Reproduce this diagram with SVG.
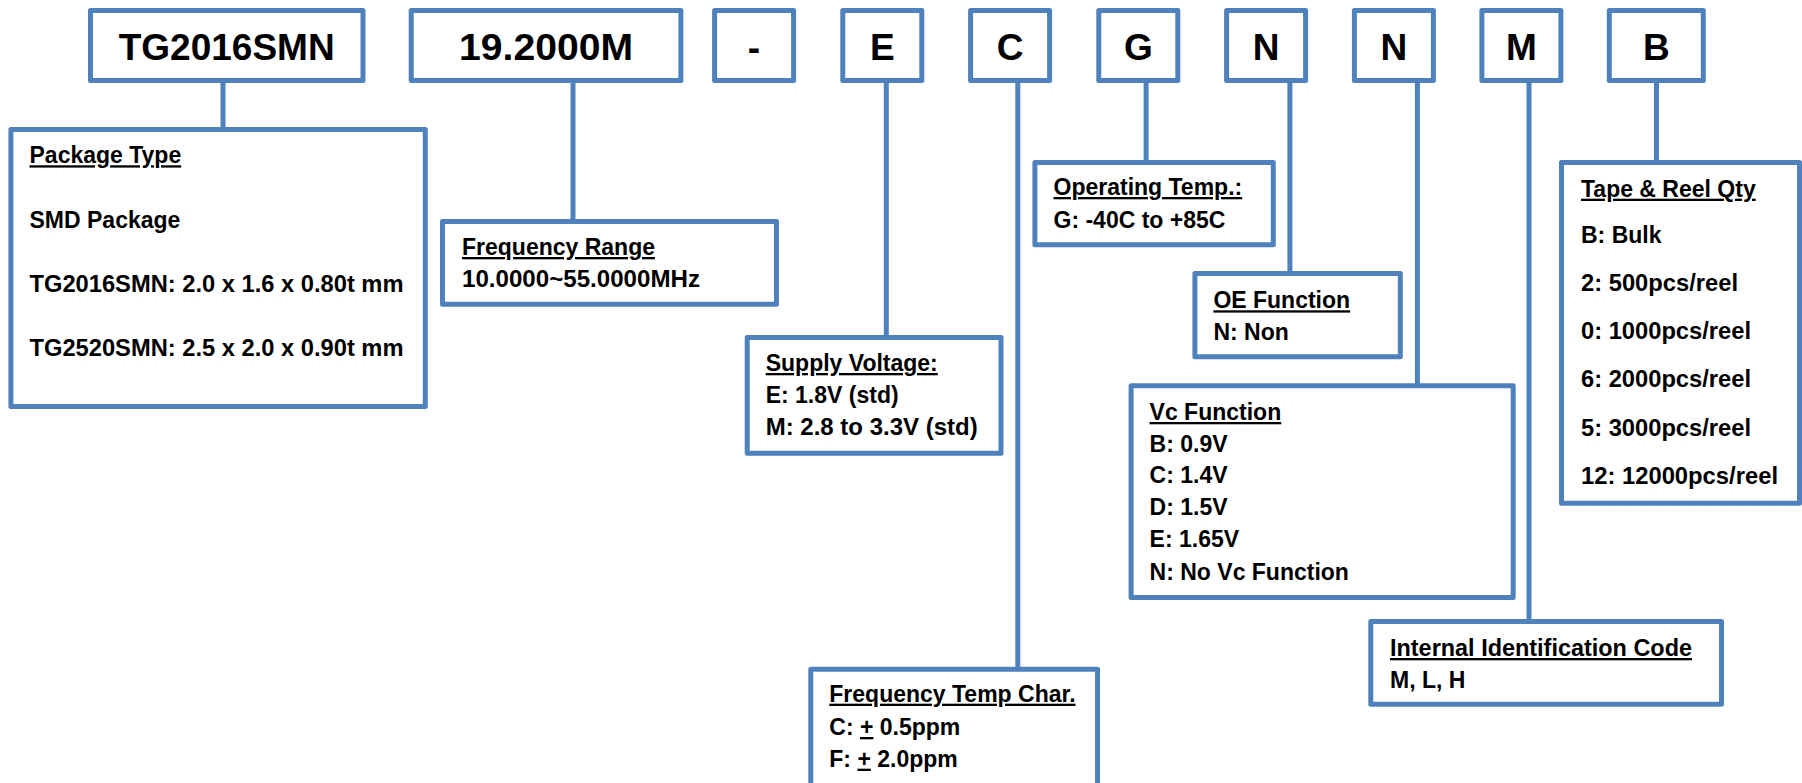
<svg xmlns="http://www.w3.org/2000/svg" width="1802" height="783" viewBox="0 0 1802 783">
<style>
.box{fill:#fff;stroke:#4F81BD;stroke-width:5;stroke-linejoin:round}
.ln{stroke:#4F81BD;stroke-width:5;fill:none}
.t{font-family:"Liberation Sans",Arial,sans-serif;font-weight:bold;fill:#000}
.big{font-size:37px;text-anchor:middle}
.s{font-size:23px}
.u{text-decoration:underline}
</style>
<rect width="1802" height="783" fill="#fff"/>
<g id="connectors">
<line class="ln" x1="223" y1="80" x2="223" y2="130"/>
<line class="ln" x1="573" y1="80" x2="573" y2="222"/>
<line class="ln" x1="886.3" y1="80" x2="886.3" y2="338"/>
<line class="ln" x1="1017.8" y1="80" x2="1017.8" y2="669"/>
<line class="ln" x1="1146.1" y1="80" x2="1146.1" y2="163"/>
<line class="ln" x1="1289.9" y1="80" x2="1289.9" y2="274"/>
<line class="ln" x1="1417.4" y1="80" x2="1417.4" y2="386"/>
<line class="ln" x1="1529" y1="80" x2="1529" y2="622"/>
<line class="ln" x1="1656.5" y1="80" x2="1656.5" y2="163"/>
</g>
<g id="code-TG2016SMN"><rect class="box" x="90.5" y="10.5" width="272.5" height="70"/><text class="t big" x="226.7" y="60">TG2016SMN</text></g>
<g id="code-freq"><rect class="box" x="411.2" y="10.5" width="269.7" height="70"/><text class="t big" x="546" y="60" textLength="174" lengthAdjust="spacingAndGlyphs">19.2000M</text></g>
<g id="code-dash"><rect class="box" x="714.6" y="10.5" width="79" height="70"/><text class="t big" x="754" y="60">-</text></g>
<g id="code-E"><rect class="box" x="842.8" y="10.5" width="79" height="70"/><text class="t big" x="882.3" y="60">E</text></g>
<g id="code-C"><rect class="box" x="970.6" y="10.5" width="79" height="70"/><text class="t big" x="1010.1" y="60">C</text></g>
<g id="code-G"><rect class="box" x="1098.8" y="10.5" width="79" height="70"/><text class="t big" x="1138.3" y="60">G</text></g>
<g id="code-N1"><rect class="box" x="1226.6" y="10.5" width="79" height="70"/><text class="t big" x="1266.1" y="60">N</text></g>
<g id="code-N2"><rect class="box" x="1354.4" y="10.5" width="79" height="70"/><text class="t big" x="1393.9" y="60">N</text></g>
<g id="code-M"><rect class="box" x="1481.9" y="10.5" width="79" height="70"/><text class="t big" x="1521.4" y="60">M</text></g>
<g id="code-B"><rect class="box" x="1609.3" y="10.5" width="94" height="70"/><text class="t big" x="1656.3" y="60">B</text></g>

<g id="package-type"><rect class="box" x="10.9" y="129.5" width="414.4" height="277"/>
<text class="t s u" x="29.5" y="163.3">Package Type</text>
<text class="t s" x="29.5" y="227.7">SMD Package</text>
<text class="t s" x="29.5" y="291.7" textLength="374" lengthAdjust="spacingAndGlyphs">TG2016SMN: 2.0 x 1.6 x 0.80t mm</text>
<text class="t s" x="29.5" y="355.7" textLength="374" lengthAdjust="spacingAndGlyphs">TG2520SMN: 2.5 x 2.0 x 0.90t mm</text></g>

<g id="frequency-range"><rect class="box" x="442.5" y="221.5" width="334" height="82.7"/>
<text class="t s u" x="462" y="255">Frequency Range</text>
<text class="t s" x="462" y="287.3" textLength="238" lengthAdjust="spacingAndGlyphs">10.0000~55.0000MHz</text></g>

<g id="supply-voltage"><rect class="box" x="747.2" y="337.5" width="253.8" height="115.7"/>
<text class="t s u" x="765.7" y="371">Supply Voltage:</text>
<text class="t s" x="765.7" y="403.3">E: 1.8V (std)</text>
<text class="t s" x="765.7" y="435" textLength="212" lengthAdjust="spacingAndGlyphs">M: 2.8 to 3.3V (std)</text></g>

<g id="freq-temp-char"><rect class="box" x="810.8" y="669.2" width="286.7" height="150"/>
<text class="t s u" x="829.3" y="701.7">Frequency Temp Char.</text>
<text class="t s" x="829.3" y="735">C: <tspan class="u">+</tspan> 0.5ppm</text>
<text class="t s" x="829.3" y="766.7">F: <tspan class="u">+</tspan> 2.0ppm</text></g>

<g id="operating-temp"><rect class="box" x="1034.9" y="162.5" width="238.4" height="82.3"/>
<text class="t s u" x="1053.5" y="195">Operating Temp.:</text>
<text class="t s" x="1053.5" y="228">G: -40C to +85C</text></g>

<g id="oe-function"><rect class="box" x="1194.9" y="273.5" width="205.4" height="83.3"/>
<text class="t s u" x="1213.4" y="308.3">OE Function</text>
<text class="t s" x="1213.4" y="340">N: Non</text></g>

<g id="vc-function"><rect class="box" x="1131.1" y="385.8" width="382.1" height="211.7"/>
<text class="t s u" x="1149.6" y="420">Vc Function</text>
<text class="t s" x="1149.6" y="451.7">B: 0.9V</text>
<text class="t s" x="1149.6" y="483.3">C: 1.4V</text>
<text class="t s" x="1149.6" y="515">D: 1.5V</text>
<text class="t s" x="1149.6" y="546.7">E: 1.65V</text>
<text class="t s" x="1149.6" y="580">N: No Vc Function</text></g>

<g id="internal-id"><rect class="box" x="1370.8" y="621.5" width="350.7" height="82.7"/>
<text class="t s u" x="1390" y="656" textLength="302" lengthAdjust="spacingAndGlyphs">Internal Identification Code</text>
<text class="t s" x="1390" y="688.3">M, L, H</text></g>

<g id="tape-reel"><rect class="box" x="1561.5" y="162.5" width="238" height="340.7"/>
<text class="t s u" x="1581" y="196.7">Tape &amp; Reel Qty</text>
<text class="t s" x="1581" y="243.3">B: Bulk</text>
<text class="t s" x="1581" y="291" textLength="157" lengthAdjust="spacingAndGlyphs">2: 500pcs/reel</text>
<text class="t s" x="1581" y="339" textLength="170" lengthAdjust="spacingAndGlyphs">0: 1000pcs/reel</text>
<text class="t s" x="1581" y="386.7" textLength="170" lengthAdjust="spacingAndGlyphs">6: 2000pcs/reel</text>
<text class="t s" x="1581" y="435.7" textLength="170" lengthAdjust="spacingAndGlyphs">5: 3000pcs/reel</text>
<text class="t s" x="1581" y="484" textLength="197" lengthAdjust="spacingAndGlyphs">12: 12000pcs/reel</text></g>
</svg>
